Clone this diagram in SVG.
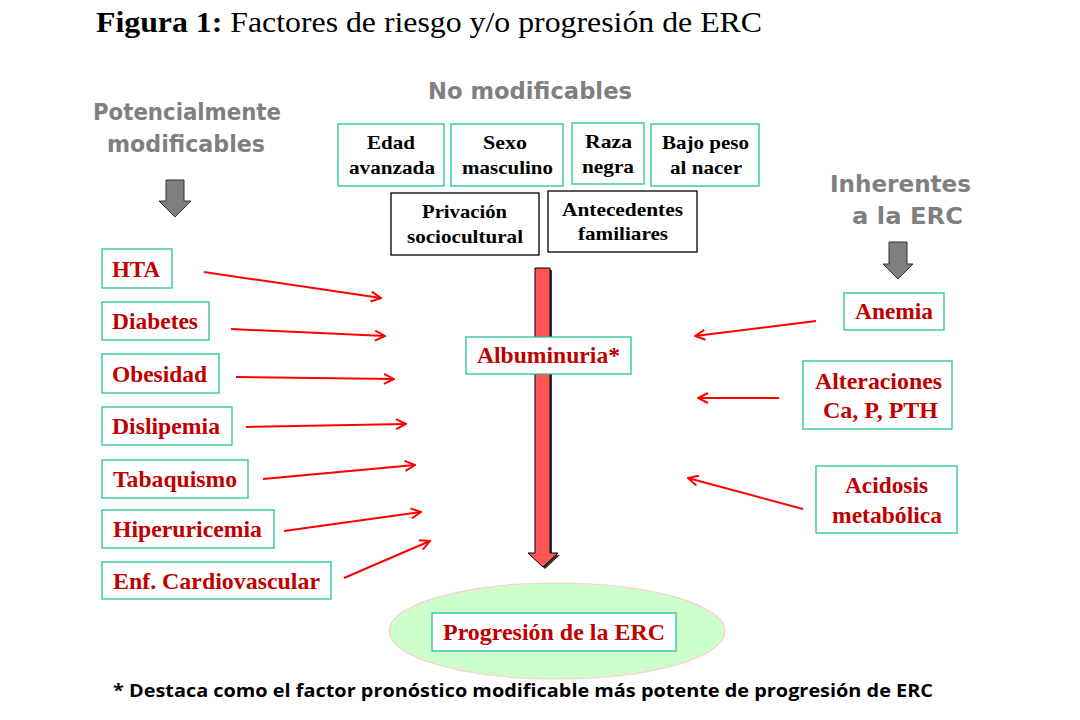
<svg xmlns="http://www.w3.org/2000/svg" width="1080" height="720" viewBox="0 0 1080 720">
<defs>
<marker id="ah" viewBox="0 0 12 12" markerWidth="12" markerHeight="12" refX="11" refY="6" orient="auto" markerUnits="userSpaceOnUse">
<path d="M1,1 L11,6 L1,11" fill="none" stroke="#FF0000" stroke-width="2"/>
</marker>
</defs>
<style>
.title{font-family:"Liberation Serif",serif;font-size:30px;fill:#000}
.gray{font-family:"DejaVu Sans",sans-serif;font-weight:bold;font-size:23px;fill:#7F7F7F}
.gbox{fill:#fff;stroke:#22C49A;stroke-width:1.3}
.kbox{fill:#fff;stroke:#000;stroke-width:1.3}
.tb{font-family:"Liberation Serif",serif;font-weight:bold;font-size:19px;fill:#000}
.rt{font-family:"Liberation Serif",serif;font-weight:bold;font-size:23px;fill:#C00000}
.conn line{stroke:#FF0000;stroke-width:2;marker-end:url(#ah)}
.garrow{fill:#7F7F7F;stroke:#333;stroke-width:1}
.foot{font-family:"Open Sans",sans-serif;font-weight:bold;font-size:18px;fill:#000}
</style>
<rect width="1080" height="720" fill="#fff"/>
<text class="title" x="96" y="32" textLength="666" lengthAdjust="spacingAndGlyphs"><tspan font-weight="bold">Figura 1:</tspan> Factores de riesgo y/o progresión de ERC</text>

<text class="gray" x="428" y="99" textLength="204" lengthAdjust="spacingAndGlyphs">No modificables</text>
<text class="gray" x="93" y="120" textLength="188" lengthAdjust="spacingAndGlyphs">Potencialmente</text>
<text class="gray" x="107" y="152" textLength="158" lengthAdjust="spacingAndGlyphs">modificables</text>
<text class="gray" x="830" y="192" textLength="141" lengthAdjust="spacingAndGlyphs">Inherentes</text>
<text class="gray" x="852" y="224" textLength="111" lengthAdjust="spacingAndGlyphs">a la ERC</text>

<path class="garrow" d="M166,180 H184 V201 H191 L175,217 L159,201 H166 Z"/>
<path class="garrow" d="M889,242 H907 V264 H913 L898,279 L883,264 H889 Z"/>

<g id="edad"><rect class="gbox" x="338" y="124" width="106" height="62"/><text class="tb" x="367" y="149" textLength="48" lengthAdjust="spacingAndGlyphs">Edad</text><text class="tb" x="349" y="174" textLength="86" lengthAdjust="spacingAndGlyphs">avanzada</text></g>
<g id="sexo"><rect class="gbox" x="451" y="124" width="112" height="62"/><text class="tb" x="483" y="149" textLength="44" lengthAdjust="spacingAndGlyphs">Sexo</text><text class="tb" x="462" y="174" textLength="91" lengthAdjust="spacingAndGlyphs">masculino</text></g>
<g id="raza"><rect class="gbox" x="572" y="123" width="72" height="61"/><text class="tb" x="585" y="148" textLength="47" lengthAdjust="spacingAndGlyphs">Raza</text><text class="tb" x="582" y="173" textLength="52" lengthAdjust="spacingAndGlyphs">negra</text></g>
<g id="bajo"><rect class="gbox" x="651" y="124" width="108" height="62"/><text class="tb" x="662" y="149" textLength="87" lengthAdjust="spacingAndGlyphs">Bajo peso</text><text class="tb" x="670" y="174" textLength="72" lengthAdjust="spacingAndGlyphs">al nacer</text></g>
<g id="privacion"><rect class="kbox" x="391" y="193" width="148" height="62"/><text class="tb" x="422" y="218" textLength="85" lengthAdjust="spacingAndGlyphs">Privación</text><text class="tb" x="407" y="243" textLength="116" lengthAdjust="spacingAndGlyphs">sociocultural</text></g>
<g id="antecedentes"><rect class="kbox" x="548" y="191" width="149" height="61"/><text class="tb" x="562" y="216" textLength="121" lengthAdjust="spacingAndGlyphs">Antecedentes</text><text class="tb" x="578" y="240" textLength="90" lengthAdjust="spacingAndGlyphs">familiares</text></g>

<g id="central-arrow">
<path d="M537,270 H552 V555 H560 L545,569 L530,555 H537 Z" fill="#333"/>
<path d="M535,268 H550 V553 H558 L543,567 L528,553 H535 Z" fill="#FF5555" stroke="#000" stroke-width="1"/>
</g>

<g id="progresion">
<ellipse cx="557" cy="631" rx="168" ry="48" fill="#CCFFCC" stroke="#FFCCCC" stroke-width="1.2"/>
<rect class="gbox" x="432" y="613" width="244" height="38"/>
<text class="rt" x="443" y="640" textLength="222" lengthAdjust="spacingAndGlyphs">Progresión de la ERC</text>
</g>

<g id="albuminuria"><rect class="gbox" x="466" y="337" width="165" height="37"/><text class="rt" x="477" y="363" textLength="143" lengthAdjust="spacingAndGlyphs">Albuminuria*</text></g>

<g id="hta"><rect class="gbox" x="102" y="249" width="70" height="39"/><text class="rt" x="112" y="277" textLength="48" lengthAdjust="spacingAndGlyphs">HTA</text></g>
<g id="diabetes"><rect class="gbox" x="102" y="302" width="107" height="38"/><text class="rt" x="112" y="329" textLength="86" lengthAdjust="spacingAndGlyphs">Diabetes</text></g>
<g id="obesidad"><rect class="gbox" x="102" y="354" width="117" height="39"/><text class="rt" x="112" y="382" textLength="95" lengthAdjust="spacingAndGlyphs">Obesidad</text></g>
<g id="dislipemia"><rect class="gbox" x="102" y="407" width="130" height="38"/><text class="rt" x="112" y="434" textLength="108" lengthAdjust="spacingAndGlyphs">Dislipemia</text></g>
<g id="tabaquismo"><rect class="gbox" x="102" y="460" width="146" height="38"/><text class="rt" x="113" y="487" textLength="124" lengthAdjust="spacingAndGlyphs">Tabaquismo</text></g>
<g id="hiperuricemia"><rect class="gbox" x="102" y="510" width="172" height="38"/><text class="rt" x="113" y="537" textLength="149" lengthAdjust="spacingAndGlyphs">Hiperuricemia</text></g>
<g id="enf"><rect class="gbox" x="102" y="562" width="229" height="37"/><text class="rt" x="113" y="589" textLength="207" lengthAdjust="spacingAndGlyphs">Enf. Cardiovascular</text></g>

<g id="anemia"><rect class="gbox" x="844" y="293" width="100" height="37"/><text class="rt" x="855" y="319" textLength="78" lengthAdjust="spacingAndGlyphs">Anemia</text></g>
<g id="alteraciones"><rect class="gbox" x="803" y="361" width="149" height="68"/><text class="rt" x="815" y="389" textLength="127" lengthAdjust="spacingAndGlyphs">Alteraciones</text><text class="rt" x="823" y="418" textLength="115" lengthAdjust="spacingAndGlyphs">Ca, P, PTH</text></g>
<g id="acidosis"><rect class="gbox" x="816" y="466" width="141" height="67"/><text class="rt" x="845" y="493" textLength="83" lengthAdjust="spacingAndGlyphs">Acidosis</text><text class="rt" x="832" y="523" textLength="110" lengthAdjust="spacingAndGlyphs">metabólica</text></g>

<g id="connectors" class="conn">
<line x1="204" y1="272" x2="381" y2="298"/>
<line x1="231" y1="329" x2="385" y2="336"/>
<line x1="236" y1="377" x2="394" y2="379"/>
<line x1="246" y1="427" x2="406" y2="424"/>
<line x1="263" y1="479" x2="415" y2="465"/>
<line x1="284" y1="531" x2="421" y2="512"/>
<line x1="344" y1="578" x2="430" y2="541"/>
<line x1="816" y1="321" x2="695" y2="336"/>
<line x1="779" y1="398" x2="698" y2="398"/>
<line x1="803" y1="509" x2="688" y2="478"/>
</g>

<text class="foot" x="113" y="697" textLength="820" lengthAdjust="spacingAndGlyphs">* Destaca como el factor pronóstico modificable más potente de progresión de ERC</text>
</svg>
